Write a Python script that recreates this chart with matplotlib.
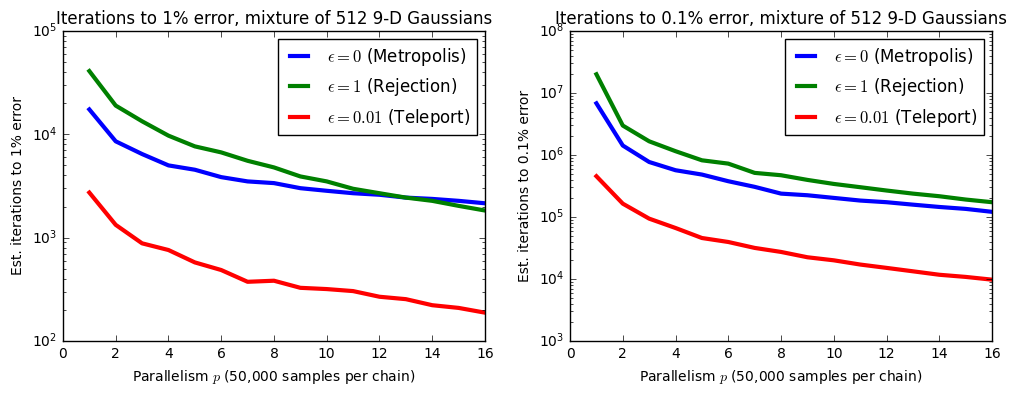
import matplotlib
matplotlib.use("Agg")
import matplotlib.pyplot as plt

plt.style.use("classic")

p = list(range(1, 17))

# 1% error
metro_1 = [17400, 8550, 6440, 5000, 4540, 3850, 3500, 3370, 3010, 2840, 2690, 2600, 2440, 2370, 2270, 2150]
reject_1 = [40900, 18950, 13360, 9700, 7640, 6680, 5540, 4780, 3910, 3500, 2970, 2690, 2440, 2270, 2030, 1830]
tele_1 = [2730, 1330, 881, 759, 576, 486, 374, 383, 327, 318, 304, 268, 254, 222, 209, 188]

# 0.1% error
metro_01 = [6.8e6, 1.42e6, 7.7e5, 5.67e5, 4.83e5, 3.77e5, 3.06e5, 2.38e5, 2.24e5, 2.03e5, 1.84e5, 1.73e5, 1.58e5, 1.45e5, 1.35e5, 1.21e5]
reject_01 = [2.0e7, 2.98e6, 1.66e6, 1.15e6, 8.2e5, 7.25e5, 5.14e5, 4.71e5, 3.96e5, 3.41e5, 3.02e5, 2.67e5, 2.38e5, 2.16e5, 1.91e5, 1.73e5]
tele_01 = [4.54e5, 1.64e5, 9.4e4, 6.64e4, 4.58e4, 3.95e4, 3.17e4, 2.73e4, 2.24e4, 2.0e4, 1.71e4, 1.51e4, 1.33e4, 1.17e4, 1.08e4, 9.75e3]

labels = [r"$\epsilon = 0$ (Metropolis)", r"$\epsilon = 1$ (Rejection)", r"$\epsilon = 0.01$ (Teleport)"]

fig = plt.figure(figsize=(10.17, 3.95), dpi=100)
ax1 = fig.add_axes([0.0619, 0.1367, 0.415, 0.785])
ax2 = fig.add_axes([0.5605, 0.1367, 0.415, 0.785])

panels = [
    (ax1, [metro_1, reject_1, tele_1], "1%", (1e2, 1e5)),
    (ax2, [metro_01, reject_01, tele_01], "0.1%", (1e3, 1e8)),
]

for ax, series, pct, ylim in panels:
    for ys, c, lab in zip(series, ["b", "g", "r"], labels):
        ax.plot(p, ys, color=c, lw=3, label=lab)
    ax.set_yscale("log")
    ax.set_xlim(0, 16)
    ax.set_ylim(*ylim)
    ax.tick_params(labelsize=10)
    ax.set_title("Iterations to %s error, mixture of 512 9-D Gaussians" % pct, fontsize=12)
    ax.set_xlabel(r"Parallelism $p$ (50,000 samples per chain)", fontsize=10)
    ax.set_ylabel("Est. iterations to %s error" % pct, fontsize=10)
    ax.legend(loc="upper right", fontsize=12, handlelength=1.7)

fig.savefig("out.png", dpi=100)
